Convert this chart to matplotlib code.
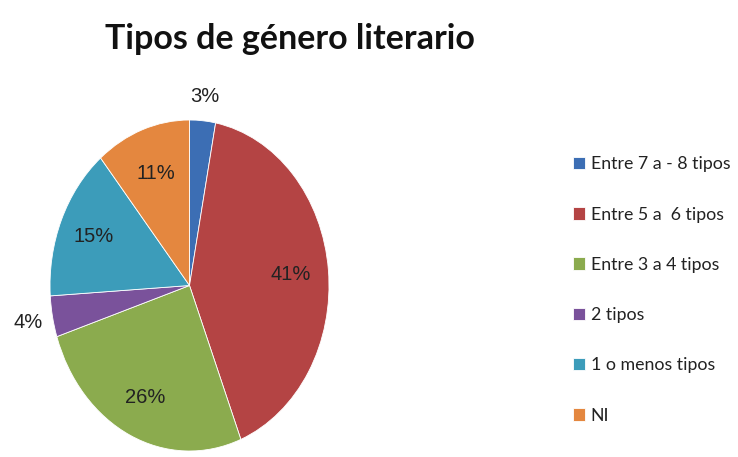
import numpy as np
import matplotlib
matplotlib.use("Agg")
import matplotlib.pyplot as plt

title = "Tipos de género literario"
categories = ["Entre 7 a - 8 tipos", "Entre 5 a  6 tipos", "Entre 3 a 4 tipos",
              "2 tipos", "1 o menos tipos", "NI"]
values = [3, 41, 26, 4, 15, 11]
colors = ["#3C6EB4", "#B44444", "#8BAB4E", "#7A529B", "#3C9CBA", "#E4873F"]
label_dist = [1.15, 0.73, 0.75, 1.18, 0.75, 0.72]

W, H = 738, 457
fig = plt.figure(figsize=(W / 100, H / 100), dpi=100)
fig.patch.set_facecolor("white")

ax = fig.add_axes([50 / W, (H - 451) / H, 279 / W, 331 / H])
wedges, _ = ax.pie(values, colors=colors, startangle=90, counterclock=False,
                   wedgeprops=dict(linewidth=0.6, edgecolor="white"))
ax.set_aspect("auto")
ax.set_xlim(-1, 1)
ax.set_ylim(-1, 1)
ax.axis("off")

total = sum(values)
for w, v, d in zip(wedges, values, label_dist):
    ang = np.deg2rad((w.theta1 + w.theta2) / 2)
    ax.text(d * np.cos(ang), d * np.sin(ang), f"{round(100 * v / total)}%",
            ha="center", va="center", fontsize=14.5, color="#222222",
            family="Liberation Sans")

fig.text(290 / W, 1 - 39 / H, title, ha="center", va="center",
         fontsize=24.5, fontweight="bold", family="Lato", color="#111111")

leg = fig.legend(wedges, categories, loc="center left",
                 bbox_to_anchor=(557 / W, 1 - 290 / H), frameon=False,
                 handlelength=0.7, handleheight=0.7, handletextpad=0.3,
                 labelspacing=1.93, prop=dict(family="Lato", size=12.8))
for t in leg.get_texts():
    t.set_color("#222222")

fig.savefig("out.png", dpi=100, facecolor="white")
